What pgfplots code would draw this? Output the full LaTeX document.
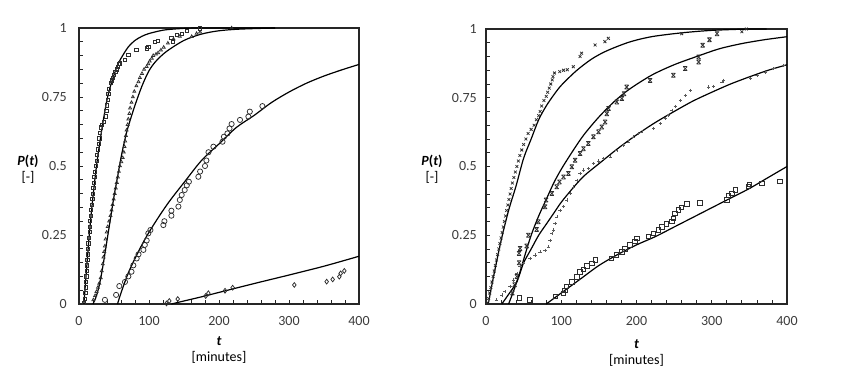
\documentclass[border=0pt]{standalone}
\usepackage{pgfplots}
\pgfplotsset{compat=1.18}
\usepackage{fontspec}
\setmainfont{Carlito}
\definecolor{tickgray}{RGB}{60,60,60}
\definecolor{mk}{RGB}{45,45,45}
\pgfdeclareplotmark{xbar}{%
  \pgfpathmoveto{\pgfqpoint{-\pgfplotmarksize}{\pgfplotmarksize}}%
  \pgfpathlineto{\pgfqpoint{\pgfplotmarksize}{-\pgfplotmarksize}}%
  \pgfpathmoveto{\pgfqpoint{-\pgfplotmarksize}{-\pgfplotmarksize}}%
  \pgfpathlineto{\pgfqpoint{\pgfplotmarksize}{\pgfplotmarksize}}%
  \pgfpathmoveto{\pgfqpoint{-\pgfplotmarksize}{\pgfplotmarksize}}%
  \pgfpathlineto{\pgfqpoint{\pgfplotmarksize}{\pgfplotmarksize}}%
  \pgfpathmoveto{\pgfqpoint{-\pgfplotmarksize}{-\pgfplotmarksize}}%
  \pgfpathlineto{\pgfqpoint{\pgfplotmarksize}{-\pgfplotmarksize}}%
  \pgfusepathqstroke}
\pgfplotsset{
  myax/.style={scale only axis, xmin=0, xmax=400, ymin=0, ymax=1,
    xtick={0,100,200,300,400}, xticklabels={0,100,200,300,400},
    ytick={0,0.25,0.5,0.75,1}, yticklabels={0,0.25,0.5,0.75,1},
    minor x tick num=4, minor y tick num=4,
    tick align=inside, tick pos=left,
    major tick length=4pt, minor tick length=4pt,
    axis line style={line width=1.1pt, black!85},
    every tick/.style={line width=0.8pt, black!85},
    tick label style={font=\fontsize{14}{16}\selectfont, text=tickgray, inner sep=0pt},
    xticklabel style={yshift=-12pt},
    clip=false},
  fit/.style={black, line width=1.2pt, smooth, tension=0.5, no marks},
  pts/.style={only marks, mark options={draw=mk, line width=0.75pt, fill=none}},
}
\begin{document}
\begin{tikzpicture}
\path[use as bounding box] (0pt,0pt) rectangle (843pt,-380pt);
% ---------------- left panel ----------------
\begin{axis}[myax, at={(79pt,-304pt)}, anchor=south west, width=280pt, height=276pt,
  yticklabel style={xshift=-12pt}]
% series 1: squares
\addplot[pts, mark=square, mark size=1.6pt] coordinates {
(7.5,0.005)(8.5,0.02)(9,0.04)(9.5,0.06)(10,0.08)(10.5,0.1)(11,0.12)(11.5,0.14)(12,0.16)(12.5,0.18)(13,0.2)(13.5,0.22)(14,0.24)(15,0.26)(15.5,0.28)(16,0.3)(17,0.32)(17.5,0.34)(18,0.36)(19,0.38)(19.5,0.4)(20.5,0.42)(21,0.44)(22,0.46)(23,0.48)(24,0.5)(25,0.52)(26,0.54)(27,0.56)(28,0.58)(29,0.6)(30,0.62)(31,0.64)(33,0.65)(36,0.66)(38,0.68)(39,0.7)(40,0.72)(41,0.74)(42,0.76)(43,0.78)(45,0.8)(47,0.81)(48,0.82)(50,0.83)(52,0.84)(54,0.85)(55,0.86)(57,0.87)
(58.6,0.872)(65.7,0.884)(70.5,0.902)(82,0.92)(96.7,0.926)(99,0.932)(108.6,0.95)(113,0.954)(132,0.963)(134,0.95)(139.5,0.975)(146.7,0.98)(153.8,0.99)(173,0.999)
};
% series 2: small triangles
\addplot[pts, mark=triangle, mark size=1.7pt] coordinates {
(20.5,0.015)(23,0.03)(25,0.045)(27,0.06)(29,0.075)(31,0.095)(32.5,0.12)(34,0.145)(35,0.17)(36,0.19)(37,0.21)(38,0.235)(39.5,0.26)(41,0.28)(43,0.3)(45,0.32)(46.5,0.34)(48,0.36)(49.5,0.38)(51,0.4)(52.5,0.42)(54,0.44)(55.5,0.46)(57,0.48)(58.5,0.5)(60.5,0.515)(62.5,0.53)(64,0.55)(65,0.57)(66,0.59)(67,0.61)(68,0.63)(69.5,0.65)(70.5,0.67)(72,0.69)(73,0.71)(75,0.73)(77,0.75)(79,0.77)(82,0.79)(85,0.805)(87,0.82)(90,0.835)(93,0.85)(96.7,0.86)(99,0.87)(101,0.88)(104,0.89)(106,0.9)(110,0.905)(113,0.91)(117,0.92)(121,0.93)(127,0.945)(135,0.96)(144,0.97)(161,0.969)(168,0.98)(173,0.985)(218,1.0)
};
% series 3: circles
\addplot[pts, mark=o, mark size=2.6pt] coordinates {
(37,0.015)(53,0.033)(57.6,0.065)(65.7,0.08)(70.5,0.1)(75,0.117)(77.6,0.14)(82.4,0.165)(85,0.18)(92,0.196)(94,0.214)(96.7,0.23)(99,0.256)(102,0.268)(120.5,0.286)(122,0.3)(132,0.32)(132,0.338)(142,0.353)(144,0.377)(146.7,0.395)(151,0.413)(154,0.43)(157,0.443)(170.5,0.461)(173,0.48)(180,0.5)(182,0.52)(185,0.55)(192,0.57)(205,0.588)(207,0.606)(212,0.618)(215,0.636)(218,0.652)(230,0.667)(242,0.679)(244,0.697)(262,0.717)
};
% series 4: diamonds
\addplot[pts, mark=diamond, mark size=2.4pt] coordinates {
(125,0.002)(129,0.011)(141,0.018)(181,0.029)(184.8,0.039)(208.6,0.048)(219.5,0.059)(307.6,0.069)(353.8,0.081)(362.4,0.089)(371.9,0.099)(373.8,0.111)(379,0.12)
};
% fitted curves
\addplot[fit] coordinates {(7,0)(10,0.1)(15,0.26)(20,0.39)(25,0.5)(30,0.59)(35,0.67)(40,0.74)(45,0.79)(50,0.83)(55,0.865)(60,0.89)(70,0.93)(80,0.955)(90,0.97)(100,0.98)(120,0.992)(140,0.997)(170,1)(280,1)};
\addplot[fit] coordinates {(20,0)(25,0.03)(30,0.08)(35,0.15)(40,0.23)(45,0.31)(50,0.39)(55,0.46)(60,0.53)(65,0.59)(70,0.64)(80,0.72)(90,0.79)(100,0.845)(110,0.88)(125,0.915)(150,0.955)(175,0.978)(200,0.99)(230,0.996)(280,1)};
\addplot[fit] coordinates {(55,0)(60,0.04)(70,0.11)(80,0.165)(90,0.215)(100,0.26)(115,0.32)(130,0.375)(150,0.44)(175,0.52)(200,0.58)(225,0.64)(250,0.683)(275,0.73)(300,0.768)(325,0.8)(350,0.826)(375,0.848)(400,0.868)};
\addplot[fit] coordinates {(132,0)(150,0.011)(175,0.026)(200,0.042)(250,0.074)(300,0.105)(350,0.137)(400,0.173)};
\end{axis}
% ---------------- right panel ----------------
\begin{axis}[myax, at={(486pt,-304pt)}, anchor=south west, width=301pt, height=275pt,
  yticklabel style={xshift=-9pt}]
% series A: x
\addplot[pts, mark=x, mark size=2pt] coordinates {
(2,0.005)(3.5,0.02)(5,0.04)(6.5,0.06)(8,0.08)(9.5,0.1)(11,0.12)(12.5,0.14)(14,0.16)(15.5,0.18)(17,0.2)(18.5,0.22)(20,0.24)(21.5,0.26)(23,0.28)(24.5,0.3)(26,0.32)(27.5,0.34)(29,0.36)(30.5,0.38)(32,0.4)(33.5,0.42)(35,0.44)(37,0.46)(39,0.48)(41,0.5)(43,0.52)(45,0.54)(47.5,0.56)(50,0.58)(53,0.6)(56,0.62)(60,0.635)(64,0.65)(67,0.67)(70,0.685)(72,0.7)(74,0.72)(77,0.74)(80,0.755)(82,0.77)(84,0.785)(86,0.8)(88,0.815)
(89,0.827)(91,0.84)(98,0.845)(103,0.85)(108,0.852)(116,0.863)(125,0.9)(127,0.912)(145,0.942)(158,0.954)(162.6,0.966)(260,0.983)(340,0.99)(346,1.0)
};
% series B: x with bars
\addplot[pts, mark=xbar, mark size=2pt] coordinates {
(35,0.04)(38,0.07)(41,0.1)(43.9,0.15)(43.9,0.184)(45.2,0.202)(54.1,0.211)(56.3,0.25)(67.4,0.271)(69.6,0.299)(78.5,0.354)(79.8,0.378)(87.4,0.402)(94,0.426)(97.6,0.444)(103,0.462)(109.5,0.475)(114,0.499)(118.4,0.523)(125,0.547)(129.5,0.565)(136,0.584)(142.8,0.608)(149.5,0.626)(153.9,0.644)(158.3,0.662)(160.5,0.692)(162.8,0.711)(173.8,0.735)(180.5,0.747)(183.5,0.765)(187,0.789)(218,0.813)(249,0.832)(264.7,0.856)(282.5,0.88)(282.5,0.898)(288,0.941)(297,0.961)(307,0.983)
};
% series C: small plus
\addplot[pts, mark=+, mark size=1.6pt, mark options={draw=black!65}] coordinates {
(14,0.015)(21,0.033)(25,0.045)(32,0.063)(36.4,0.087)(40.8,0.111)(45.2,0.136)(49.7,0.148)(58.5,0.166)(65,0.178)(71.8,0.19)(78.5,0.196)(83,0.208)(85,0.232)(87.4,0.257)(89.6,0.269)(91.8,0.293)(94,0.317)(98.4,0.341)(103,0.354)(107.3,0.378)(111.8,0.402)(116.2,0.426)(120.6,0.45)(125,0.475)(129.5,0.487)(136,0.493)(142.8,0.511)(149.5,0.52)(156,0.529)(165,0.535)(173.8,0.559)(182.7,0.577)(189.4,0.59)(196,0.608)(202.7,0.62)(207,0.626)(222.6,0.638)(231.5,0.656)(238,0.674)(242.6,0.686)(247,0.705)(251.4,0.719)(258,0.741)(264.7,0.759)(271.4,0.777)(295.8,0.789)(302.4,0.792)(313.5,0.808)(315.8,0.814)(351,0.82)(360,0.832)(371,0.844)(382,0.856)(395.6,0.868)
};
% series D: squares
\addplot[pts, mark=square, mark size=2.2pt] coordinates {
(44.3,0.023)(58.5,0.015)(91.8,0.027)(103,0.039)(105,0.05)(107,0.065)(114,0.081)(120.6,0.099)(125,0.117)(129.5,0.126)(134,0.138)(140.6,0.148)(145,0.16)(167,0.166)(173.6,0.178)(180.3,0.19)(184.7,0.2)(191.4,0.215)(198,0.227)(200.3,0.239)(215.7,0.245)(222.3,0.257)(229,0.269)(233.5,0.281)(240,0.291)(246.8,0.3)(249,0.311)(251.2,0.33)(255.5,0.342)(260,0.352)(266.7,0.364)(284.4,0.368)(319.9,0.378)(322,0.396)(326.5,0.402)(331,0.415)(348.6,0.427)(350,0.435)(366.4,0.439)(390.7,0.447)
};
% fitted curves
\addplot[fit] coordinates {(3,0)(10,0.1)(20,0.23)(30,0.34)(40,0.43)(50,0.53)(60,0.6)(70,0.67)(80,0.72)(90,0.76)(100,0.795)(120,0.848)(140,0.89)(160,0.92)(190,0.952)(220,0.972)(260,0.986)(300,0.995)(350,1)(373,1)};
\addplot[fit] coordinates {(30,0)(37,0.05)(45,0.115)(52,0.18)(60,0.25)(70,0.32)(80,0.38)(90,0.44)(100,0.49)(115,0.555)(130,0.615)(150,0.68)(170,0.735)(190,0.78)(220,0.832)(250,0.87)(280,0.9)(310,0.928)(340,0.947)(370,0.961)(400,0.972)};
\addplot[fit] coordinates {(21,0)(30,0.035)(40,0.075)(45,0.11)(50,0.15)(60,0.2)(70,0.25)(80,0.29)(90,0.33)(100,0.37)(115,0.42)(130,0.465)(150,0.51)(175,0.565)(200,0.615)(225,0.66)(250,0.7)(275,0.738)(300,0.77)(325,0.8)(350,0.826)(375,0.85)(400,0.87)};
\addplot[fit] coordinates {(80,0)(100,0.04)(125,0.09)(150,0.14)(175,0.18)(200,0.215)(225,0.245)(250,0.28)(275,0.315)(300,0.35)(325,0.385)(350,0.42)(375,0.46)(400,0.5)};
\end{axis}
% ---------------- axis titles ----------------
\node[align=center, font=\fontsize{14}{16}\selectfont, inner sep=0pt] at (28pt,-169pt) {\textbf{\textit{P}(\textit{t})}\\{[-]}};
\node[align=center, font=\fontsize{14}{16}\selectfont, inner sep=0pt] at (219pt,-350pt) {\textbf{\textit{t}}\\{[minutes]}};
\node[align=center, font=\fontsize{14}{16}\selectfont, inner sep=0pt] at (432pt,-169pt) {\textbf{\textit{P}(\textit{t})}\\{[-]}};
\node[align=center, font=\fontsize{14}{16}\selectfont, inner sep=0pt] at (636.5pt,-353pt) {\textbf{\textit{t}}\\{[minutes]}};
\end{tikzpicture}
\end{document}
